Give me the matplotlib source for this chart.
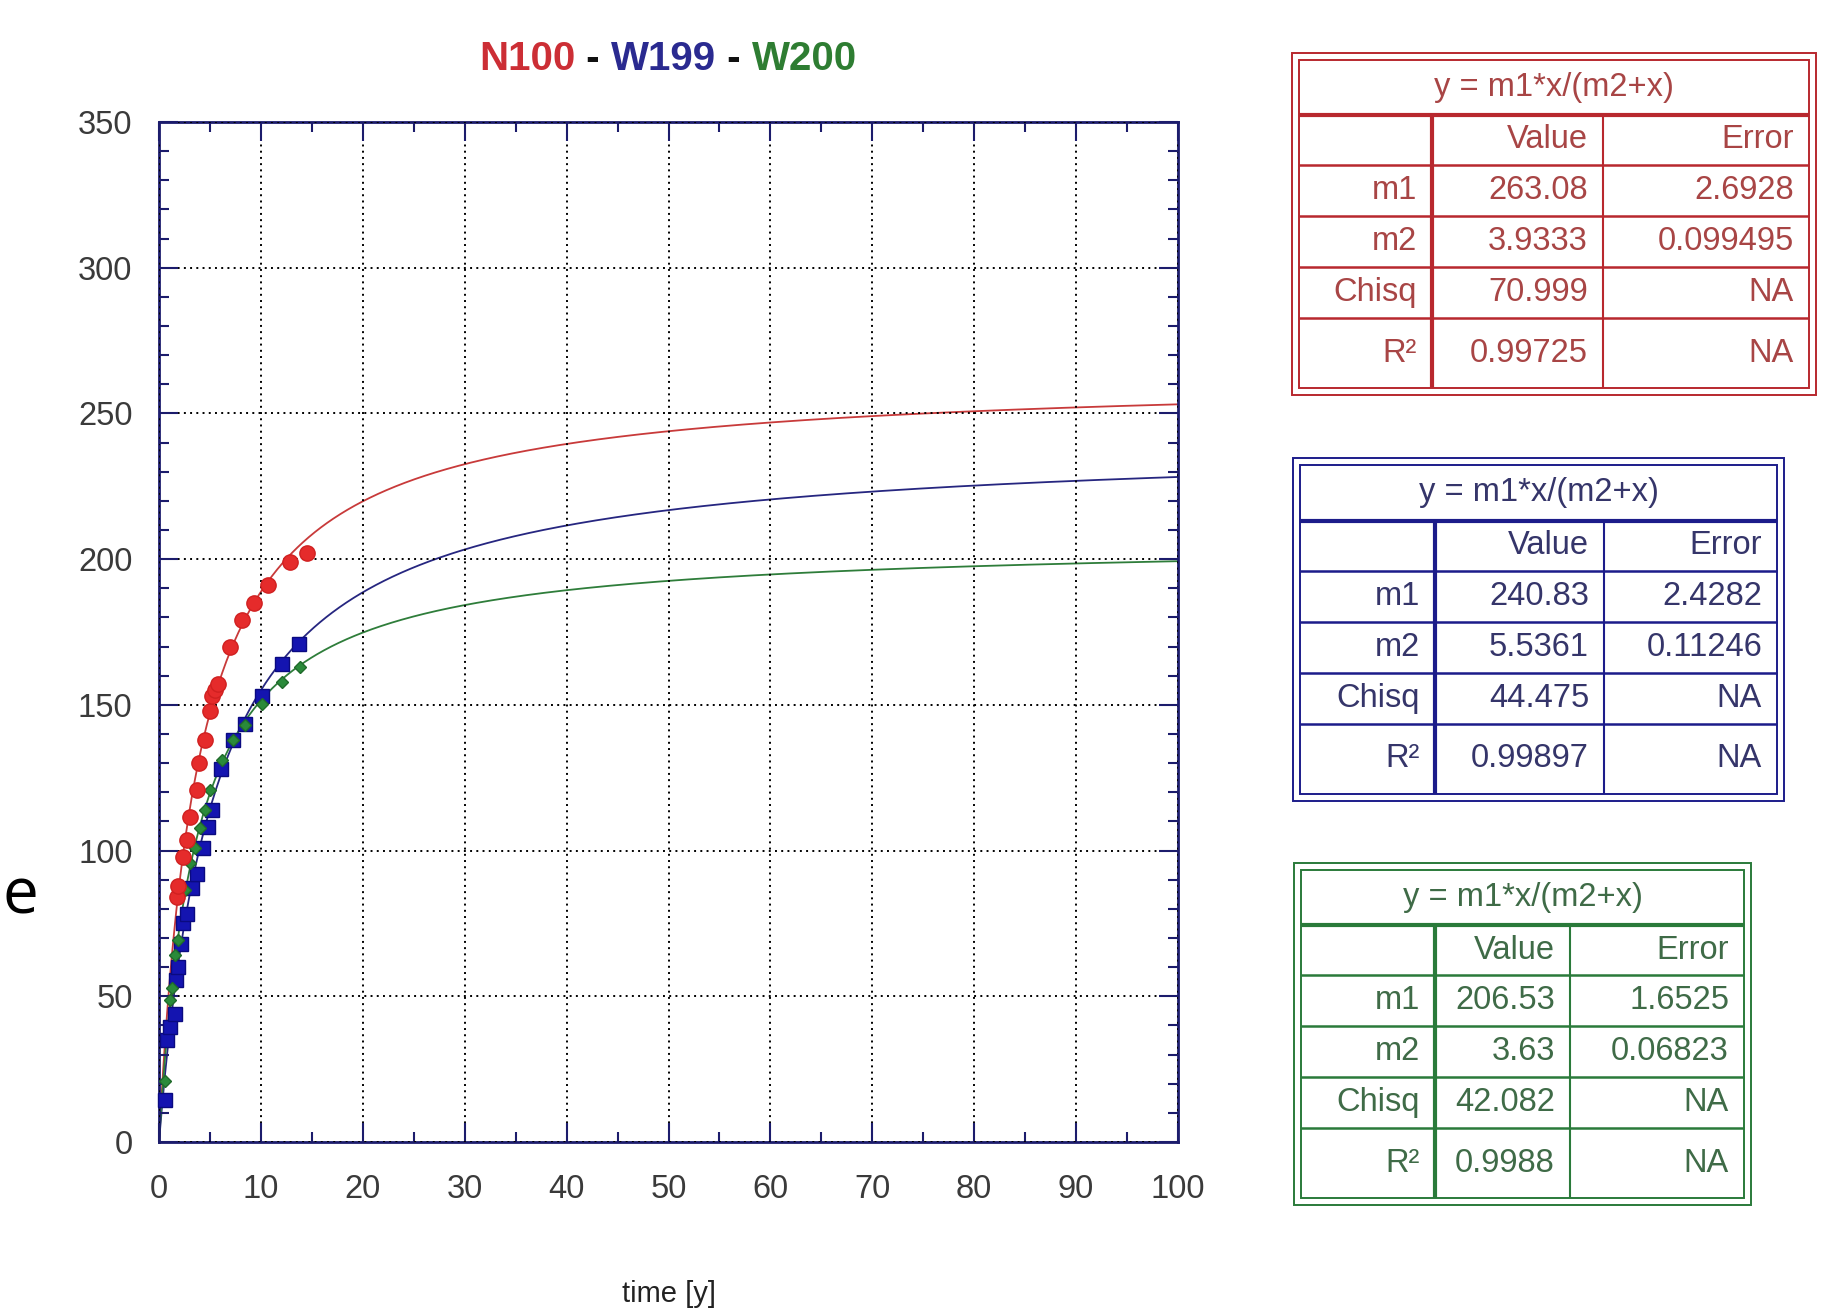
import matplotlib
matplotlib.use("Agg")
import matplotlib.pyplot as plt
import numpy as np
from matplotlib.ticker import MultipleLocator

plt.rcParams['font.family'] = ['Liberation Sans', 'DejaVu Sans']

# ---------------- data ----------------
series_names = ["N100", "W199", "W200"]

n100_x = [1.8, 1.9, 2.4, 2.7, 3.05, 3.7, 3.96, 4.5, 5.0, 5.2, 5.5, 5.8, 7.0, 8.1, 9.3, 10.7, 12.9, 14.5]
n100_y = [84, 88, 97.8, 103.6, 111.6, 120.7, 130, 138, 148, 153, 155, 157, 170, 179, 185, 191, 199, 202]

w199_x = [0.6, 0.75, 1.1, 1.6, 1.7, 1.85, 2.2, 2.4, 2.7, 3.2, 3.7, 4.35, 4.85, 5.2, 6.1, 7.3, 8.45, 10.1, 12.05, 13.75]
w199_y = [14.4, 35, 39.5, 44, 55.6, 60, 68, 75, 78.4, 87, 92, 101, 108, 114, 128, 138, 143.6, 153, 164, 170.8]

w200_x = [0.6, 1.1, 1.25, 1.6, 1.9, 2.55, 3.05, 3.5, 4.0, 4.5, 5.0, 6.2, 7.3, 8.4, 10.1, 12.05, 13.85]
w200_y = [21, 48.7, 53, 64, 69.3, 86.4, 95.6, 100.8, 107.7, 114, 120.7, 131, 138, 143, 150.4, 158, 163]

# fit parameters (from the tables)
fit_m1 = [263.08, 240.83, 206.53]
fit_m2 = [3.9333, 5.5361, 3.63]

# table texts
table_formula = "y = m1*x/(m2+x)"
table_rows = ["m1", "m2", "Chisq", "R\u00b2"]
n100_values = ["263.08", "3.9333", "70.999", "0.99725"]
n100_errors = ["2.6928", "0.099495", "NA", "NA"]
w199_values = ["240.83", "5.5361", "44.475", "0.99897"]
w199_errors = ["2.4282", "0.11246", "NA", "NA"]
w200_values = ["206.53", "3.63", "42.082", "0.9988"]
w200_errors = ["1.6525", "0.06823", "NA", "NA"]

x_ticks = list(range(0, 101, 10))
y_ticks = list(range(0, 351, 50))

# ---------------- style ----------------
W, H = 1828, 1314
navy = '#1c1c6c'
red_m, red_l, red_t = '#e52b2b', '#c83a3a', '#a84545'
blue_m, blue_l, blue_t = '#1414b0', '#262680', '#35356a'
green_m, green_l, green_t = '#2a8a3a', '#2e7d3a', '#3f6b47'

fig = plt.figure(figsize=(W / 100, H / 100), dpi=100)
fig.patch.set_facecolor('white')

ax = fig.add_axes([159 / W, 1 - 1142 / H, (1178 - 159) / W, (1142 - 122) / H])
ax.set_xlim(0, 100)
ax.set_ylim(0, 350)

xc = np.linspace(0, 100, 1001)
line_cols = [red_l, blue_l, green_l]
for m1, m2, c in zip(fit_m1, fit_m2, line_cols):
    ax.plot(xc, m1 * xc / (m2 + xc), color=c, lw=1.3, zorder=2)

ax.plot(w199_x, w199_y, 's', ms=9.5, mfc=blue_m, mec='#0a0a80', mew=1, zorder=3, clip_on=False)
ax.plot(w200_x, w200_y, 'D', ms=6, mfc=green_m, mec='#1f6a2a', mew=1, zorder=4, clip_on=False)
ax.plot(n100_x, n100_y, 'o', ms=11, mfc=red_m, mec='#d02020', mew=1, zorder=5, clip_on=False)

ax.set_xticks(x_ticks)
ax.set_yticks(y_ticks)
ax.xaxis.set_minor_locator(MultipleLocator(5))
ax.yaxis.set_minor_locator(MultipleLocator(10))
ax.tick_params(which='both', direction='in', top=True, right=True, color=navy, width=1.5)
ax.tick_params(which='major', length=14)
ax.tick_params(which='minor', length=7)
ax.tick_params(axis='both', labelsize=23.5, labelcolor='#3a3a3a')
ax.tick_params(axis='x', pad=23)
ax.tick_params(axis='y', pad=19)
ax.grid(which='major', color='black', linestyle=(0, (1, 2.2)), linewidth=1.4)
ax.set_axisbelow(False)
for s in ax.spines.values():
    s.set_color(navy)
    s.set_linewidth(2)

ax.set_xlabel("time [y]", fontsize=21, color='#222222')
ax.xaxis.set_label_coords(0.5, -0.1353)

# ---------------- overlay (pixel coordinates) ----------------
ov = fig.add_axes([0, 0, 1, 1])
ov.set_xlim(0, W)
ov.set_ylim(H, 0)
ov.axis('off')

# title in three colours
tkw = dict(fontsize=29, fontweight='bold')
t1 = ov.text(479, 70, series_names[0], color='#cc2e35', ha='left', va='baseline', **tkw)
pieces = [(" - ", '#111111'), (series_names[1], '#2a2a90'), (" - ", '#111111'), (series_names[2], '#2e7d32')]
prev = t1
for s, c in pieces:
    prev = ov.annotate(s, xy=(1, 0), xycoords=prev, ha='left', va='bottom', color=c, **tkw)

# letter at the left edge
ov.text(2, 913, "e", fontsize=46, family=['Open Sans', 'DejaVu Sans'], color='black',
        ha='left', va='baseline')


def draw_table(x0, y0, x1, c1, c2, color, tcolor, values, errors):
    th = 342.4
    g = 7
    for off in (0, g):
        ov.add_patch(plt.Rectangle((x0 + off, y0 + off), (x1 - x0) - 2 * off, th - 2 * off,
                                   fill=False, ec=color, lw=1.4))
    ix0, iy0, ix1, iy1 = x0 + g, y0 + g, x1 - g, y0 + th - g
    rows = [y0 + 62.4, y0 + 112.4, y0 + 163.4, y0 + 214.4, y0 + 265.7]
    ov.plot([ix0, ix1], [rows[0]] * 2, color=color, lw=3, solid_capstyle='butt')
    for r in rows[1:]:
        ov.plot([ix0, ix1], [r, r], color=color, lw=1.8, solid_capstyle='butt')
    ov.plot([c1, c1], [rows[0], iy1], color=color, lw=3, solid_capstyle='butt')
    ov.plot([c2, c2], [rows[0], iy1], color=color, lw=1.5, solid_capstyle='butt')
    fkw = dict(fontsize=23.5, color=tcolor, va='center')
    ov.text((ix0 + ix1) / 2, (iy0 + rows[0]) / 2, table_formula, ha='center', **fkw)
    bounds = rows + [iy1]
    ov.text(c2 - 15, (bounds[0] + bounds[1]) / 2, "Value", ha='right', **fkw)
    ov.text(ix1 - 15, (bounds[0] + bounds[1]) / 2, "Error", ha='right', **fkw)
    for i in range(4):
        yc = (bounds[i + 1] + bounds[i + 2]) / 2
        ov.text(c1 - 15, yc, table_rows[i], ha='right', **fkw)
        ov.text(c2 - 15, yc, values[i], ha='right', **fkw)
        ov.text(ix1 - 15, yc, errors[i], ha='right', **fkw)


draw_table(1292, 52.5, 1816, 1432, 1603, '#b8282e', red_t, n100_values, n100_errors)
draw_table(1293, 458.3, 1784, 1435, 1604, '#1c1c8a', blue_t, w199_values, w199_errors)
draw_table(1294, 862.7, 1751, 1435, 1570, '#2a7a3a', green_t, w200_values, w200_errors)

fig.savefig("out.png", dpi=100, facecolor='white')
